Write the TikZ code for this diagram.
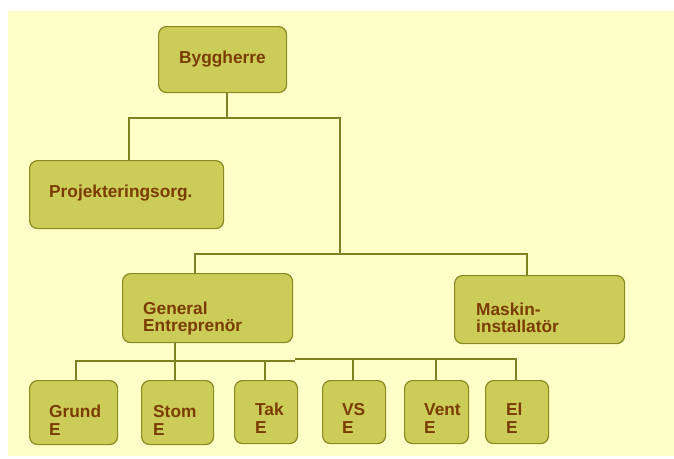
\documentclass[tikz,border=0pt]{standalone}
\usepackage{fontspec}
\setmainfont{Liberation Sans}
\definecolor{paper}{RGB}{255,255,200}
\definecolor{boxfill}{RGB}{204,204,88}
\definecolor{boxline}{RGB}{138,138,34}
\definecolor{wire}{RGB}{128,128,36}
\definecolor{txt}{RGB}{122,60,0}
\begin{document}
\begin{tikzpicture}[x=1pt,y=-1pt,
  box/.style={draw=boxline, fill=boxfill, line width=1.2pt, rounded corners=8pt,
    anchor=north west, inner sep=0pt},
  lbl/.style={anchor=base west, inner sep=0pt, text=txt,
    font=\fontsize{17.3}{18}\selectfont\bfseries},
  link/.style={draw=wire, line width=1.2pt}]
\useasboundingbox (0,0) rectangle (674,458);
\fill[white] (0,0) rectangle (674,458);
\fill[paper] (8,11) rectangle (674,456);

% organisation boxes
\node[box, minimum width=128, minimum height=66] (bygg) at (158,26) {};
\node[box, minimum width=194, minimum height=68] (proj) at (29,160) {};
\node[box, minimum width=170, minimum height=69] (ge)   at (122,273) {};
\node[box, minimum width=170, minimum height=68] (mask) at (454,275) {};
\node[box, minimum width=88, minimum height=64] (grund) at (29,380) {};
\node[box, minimum width=72, minimum height=64] (stom)  at (141,380) {};
\node[box, minimum width=63, minimum height=63] (tak)   at (234,380) {};
\node[box, minimum width=63, minimum height=63] (vs)    at (322,380) {};
\node[box, minimum width=64, minimum height=63] (vent)  at (404,380) {};
\node[box, minimum width=63, minimum height=63] (el)    at (485,380) {};

% labels
\node[lbl] (bygg-t)  at (179,63)  {Byggherre};
\node[lbl] (proj-t)  at (49,197)  {Projekteringsorg.};
\node[lbl] (ge-t)    at (143,314) {\begin{tabular}[t]{@{}l@{}}General\\[-1pt]Entreprenör\end{tabular}};
\node[lbl] (mask-t)  at (476,315) {\begin{tabular}[t]{@{}l@{}}Maskin-\\[-1pt]installatör\end{tabular}};
\node[lbl] (grund-t) at (49,417)  {\begin{tabular}[t]{@{}l@{}}Grund\\E\end{tabular}};
\node[lbl] (stom-t)  at (153,417) {\begin{tabular}[t]{@{}l@{}}Stom\\E\end{tabular}};
\node[lbl] (tak-t)   at (255,415) {\begin{tabular}[t]{@{}l@{}}Tak\\E\end{tabular}};
\node[lbl] (vs-t)    at (342,415) {\begin{tabular}[t]{@{}l@{}}VS\\E\end{tabular}};
\node[lbl] (vent-t)  at (424,415) {\begin{tabular}[t]{@{}l@{}}Vent\\E\end{tabular}};
\node[lbl] (el-t)    at (506,415) {\begin{tabular}[t]{@{}l@{}}El\\E\end{tabular}};

% branch points
\coordinate (top)  at (227,118);
\coordinate (topL) at (129,118);
\coordinate (topR) at (340,118);
\coordinate (mid)  at (340,254);
\coordinate (midL) at (195,254);
\coordinate (midR) at (527,254);
\coordinate (geDown) at (175,361);
\coordinate (lowL) at (76,361);
\coordinate (lowJ) at (295,361);
\coordinate (lowJ2) at (295,359);
\coordinate (lowR) at (516,359);
\coordinate (takJ)  at (265,361);
\coordinate (vsJ)   at (353,359);
\coordinate (ventJ) at (436,359);

% connectors
\draw[link] (bygg.south -| top) -- (top);
\draw[link] (proj.north -| topL) -- (topL) -- (topR) -- (mid);
\draw[link] (ge.north -| midL) -- (midL) -- (midR) -- (mask.north -| midR);
\draw[link] (ge.south -| geDown) -- (stom.north -| geDown);
\draw[link] (grund.north -| lowL) -- (lowL) -- (lowJ);
\draw[link] (lowJ2) -- (lowR) -- (el.north -| lowR);
\draw[link] (tak.north -| takJ) -- (takJ);
\draw[link] (vs.north -| vsJ) -- (vsJ);
\draw[link] (vent.north -| ventJ) -- (ventJ);
\end{tikzpicture}
\end{document}
